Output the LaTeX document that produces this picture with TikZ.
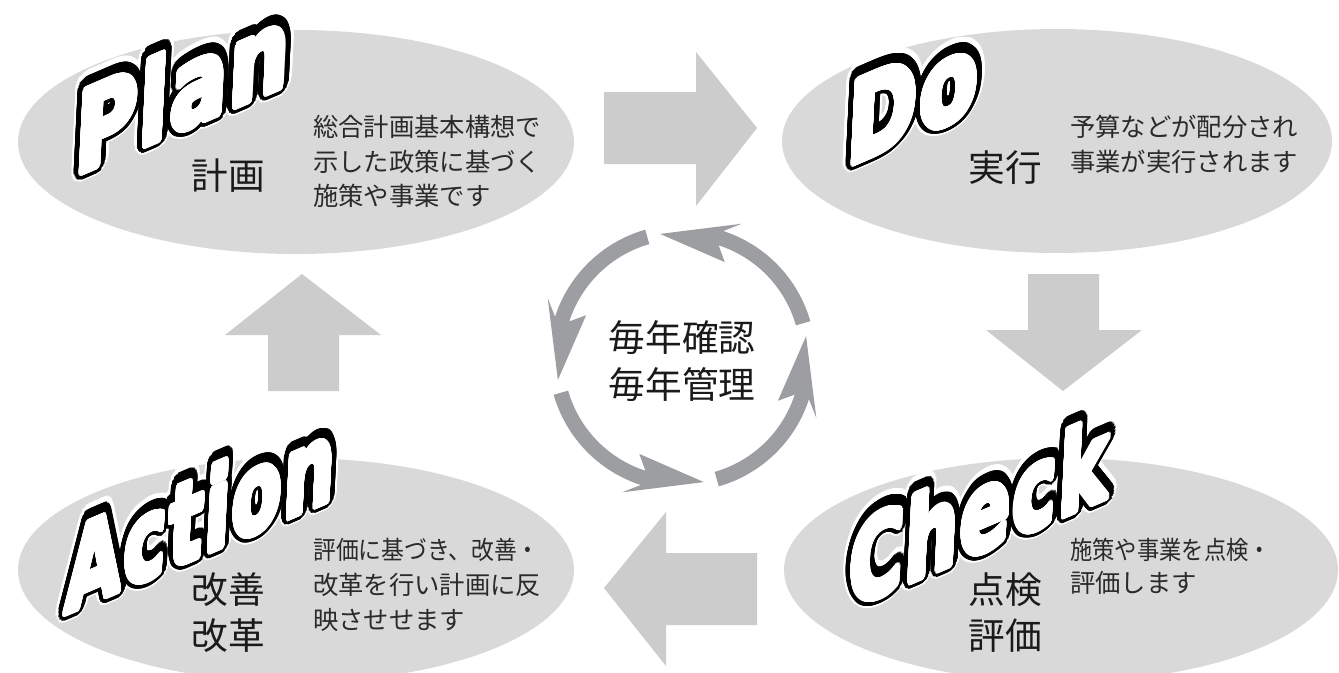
\documentclass[tikz,border=0pt]{standalone}
\usepackage{fontspec}
\usepackage{contour}
\usetikzlibrary{calc}
\newfontfamily\jp{Noto Sans CJK JP}
\newfontfamily\wordfont{DejaVu Sans}
\contournumber{48}
\definecolor{ellc}{HTML}{D9D9D9}
\definecolor{blockc}{HTML}{CCCCCC}
\definecolor{ringc}{HTML}{9D9EA2}
\definecolor{txt}{HTML}{1A1A1A}
\definecolor{bodytxt}{HTML}{2A2A2A}
\tikzset{
  ell/.style={fill=ellc, draw=none},
  blockarrow/.style={fill=blockc, draw=none},
  ringarrow/.style={fill=ringc, draw=none},
  body/.style={font=\jp\fontsize{19}{24}\selectfont, text=bodytxt, anchor=west, inner sep=0pt},
  biglabel/.style={font=\jp\fontsize{27.5}{33}\selectfont, text=txt, inner sep=0pt},
  wordtext/.style={font=\wordfont\bfseries\fontsize{60}{60}\selectfont, text=white, inner sep=0pt, transform shape},
}
\newcommand\halo[1]{\contourlength{7.6pt}\contour{white}{#1}}
\newcommand\outl[1]{\contourlength{5.6pt}\contour{black}{#1}}
\newcommand\fat[1]{\contourlength{1.9pt}\contour{white}{#1}}
\newcommand\wordPlan{P\kern2pt l\kern2pt a\kern2pt n}
\newcommand\wordDo{D\kern2pt o}
\newcommand\wordCheck{C\kern2pt h\kern2pt e\kern2pt c\kern2pt k}
\newcommand\wordAction{A\kern2pt c\kern2pt t\kern2pt i\kern2pt o\kern2pt n}
\begin{document}
\begin{tikzpicture}[x=0.75pt,y=-0.75pt]
\useasboundingbox (0,0) rectangle (1339,672);
\clip (0,0) rectangle (1339,672);
\fill[white] (0,0) rectangle (1339,672);

% ellipses
\fill[ell] (296,142) ellipse [x radius=278, y radius=112];
\fill[ell] (1057,141) ellipse [x radius=275, y radius=112];
\fill[ell] (1061,570) ellipse [x radius=277, y radius=112];
\fill[ell] (296,570) ellipse [x radius=278, y radius=112];

% block arrows
\fill[blockarrow] (604,92) -- (696,92) -- (696,52) -- (757,128) -- (696,206) -- (696,164) -- (604,164) -- cycle;
\fill[blockarrow] (1028,274) -- (1099,274) -- (1099,330) -- (1142,330) -- (1063,391) -- (986,330) -- (1028,330) -- cycle;
\fill[blockarrow] (757,553) -- (666,553) -- (666,512) -- (604,588) -- (666,666) -- (666,625) -- (757,625) -- cycle;
\fill[blockarrow] (268,391) -- (268,335) -- (225,335) -- (302,274) -- (381,335) -- (339,335) -- (339,391) -- cycle;

% ring of arrows
\coordinate (C) at (682,358);
\foreach \k in {0,1,2,3}{
  \pgfmathsetmacro\as{-(106+90*\k)}
  \pgfmathsetmacro\ai{-(162+90*\k)}
  \pgfmathsetmacro\aw{-(156+90*\k)}
  \pgfmathsetmacro\at{-(190+90*\k)}
  \fill[ringarrow] ($(C)+(\as:133.5)$) arc[start angle=\as, end angle=\ai, radius=133.5]
     -- ($(C)+(\aw:147)$) -- ($(C)+(\at:126)$) -- ($(C)+(\aw:105)$)
     -- ($(C)+(\ai:118.5)$) arc[start angle=\ai, end angle=\as, radius=118.5] -- cycle;
}

% centre text
\node[biglabel] (c1) at (682,338) {毎年確認};
\node[biglabel] (c2) at (682,385) {毎年管理};

% Plan texts
\node[biglabel] (planlab) at (228,176) {計画};
\node[body] (p1) at (313,127) {総合計画基本構想で};
\node[body] (p2) at (313,162) {示した政策に基づく};
\node[body] (p3) at (313,196) {施策や事業です};

% Do texts
\node[biglabel] (dolab) at (1005,168) {実行};
\node[body] (d1) at (1070,127) {予算などが配分され};
\node[body] (d2) at (1070,162) {事業が実行されます};

% Check texts
\node[biglabel] (chlab1) at (1005,590) {点検};
\node[biglabel] (chlab2) at (1005,636) {評価};
\node[body] (ch1) at (1070,550) {\scalebox{0.88}[1]{施策や事業を点検・}};
\node[body] (ch2) at (1070,583) {評価します};

% Action texts
\node[biglabel] (aclab1) at (228,590) {改善};
\node[biglabel] (aclab2) at (228,636) {改革};
\node[body] (a1) at (313,550) {\scalebox{0.9}[1]{評価に基づき、改善・}};
\node[body] (a2) at (313,585) {改革を行い計画に反};
\node[body] (a3) at (313,620) {映させせます};

% big outlined words
\begin{scope}[shift={(183,90)}, yslant=0.43, xslant=0.05, xscale=1.04, yscale=1.38]
  \node[wordtext] (planhalo) {\halo{\wordPlan}};
  \node[wordtext] (planout) {\outl{\wordPlan}};
  \node[wordtext] (planword) {\fat{\wordPlan}};
\end{scope}
\begin{scope}[shift={(913,100)}, yslant=0.43, xslant=0.05, xscale=1.05, yscale=1.38]
  \node[wordtext] (dohalo) {\halo{\wordDo}};
  \node[wordtext] (doout) {\outl{\wordDo}};
  \node[wordtext] (doword) {\fat{\wordDo}};
\end{scope}
\begin{scope}[shift={(979,513)}, yslant=0.43, xslant=0.05, xscale=0.92, yscale=1.38]
  \node[wordtext] (chhalo) {\halo{\wordCheck}};
  \node[wordtext] (chout) {\outl{\wordCheck}};
  \node[wordtext] (chword) {\fat{\wordCheck}};
\end{scope}
\begin{scope}[shift={(201,516)}, yslant=0.43, xslant=0.05, xscale=0.895, yscale=1.38]
  \node[wordtext] (achalo) {\halo{\wordAction}};
  \node[wordtext] (acout) {\outl{\wordAction}};
  \node[wordtext] (acword) {\fat{\wordAction}};
\end{scope}
\end{tikzpicture}
\end{document}
